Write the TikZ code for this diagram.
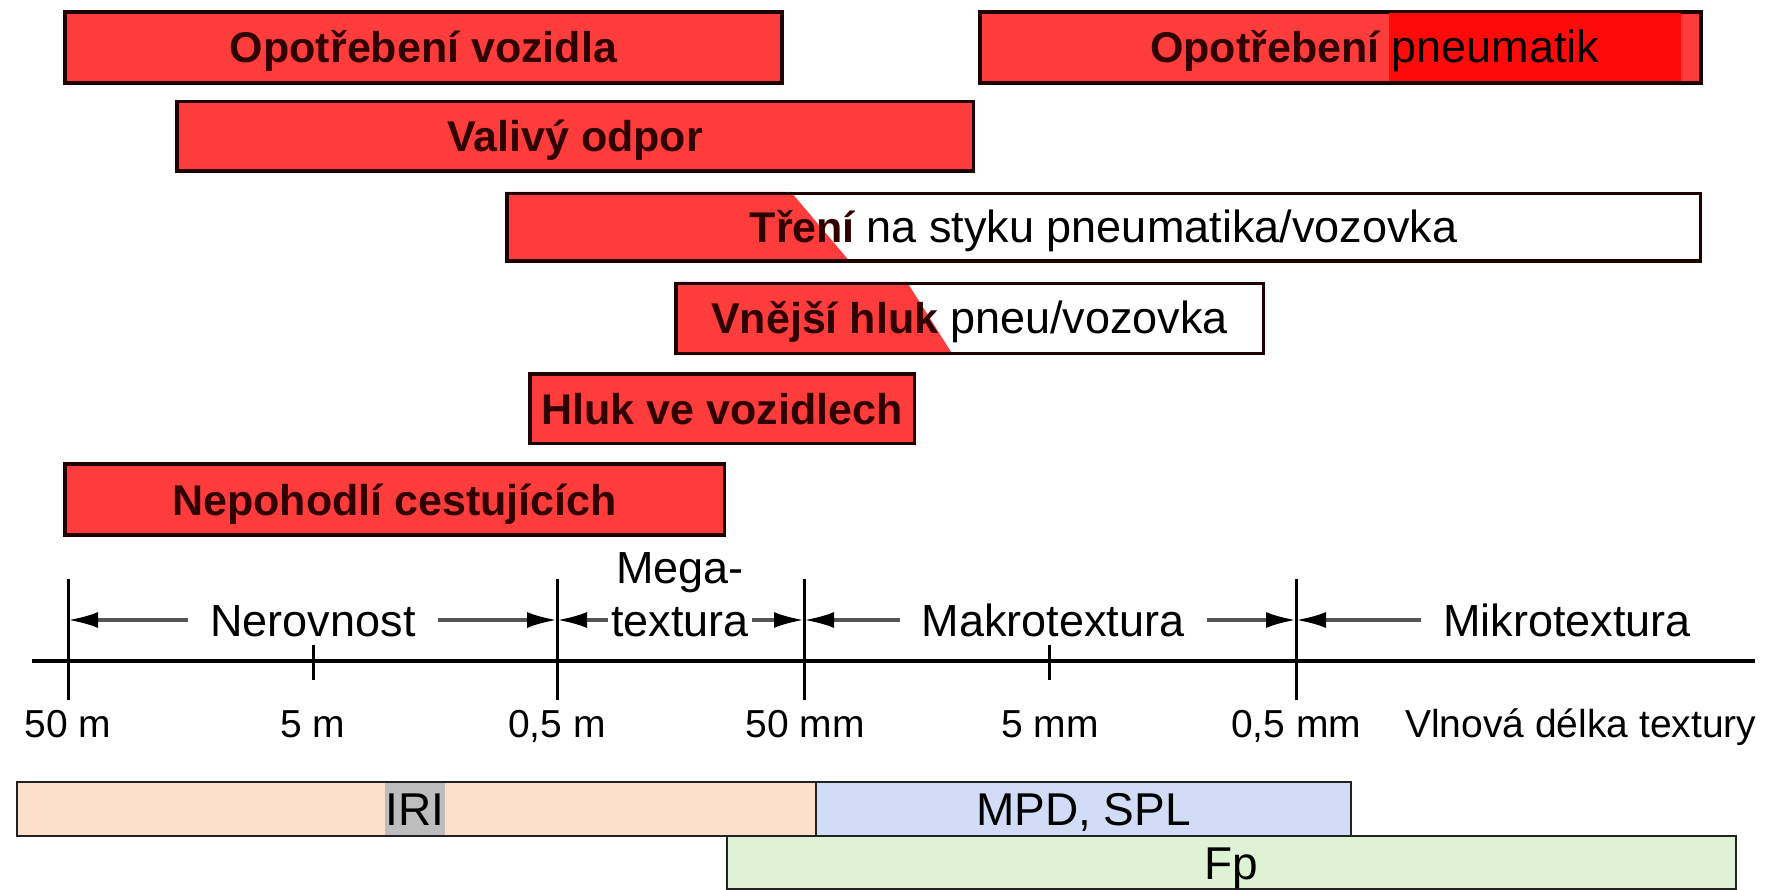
\documentclass[tikz,border=0pt]{standalone}
\usepackage{fontspec}
\setmainfont{Liberation Sans}
\usetikzlibrary{arrows.meta,backgrounds,calc}
\definecolor{redfill}{HTML}{FF3C3C}
\definecolor{redbright}{HTML}{FF0A0A}
\definecolor{boxline}{HTML}{1E0000}
\definecolor{boldtext}{HTML}{300000}
\definecolor{irifill}{HTML}{FDE0CB}
\definecolor{mpdfill}{HTML}{D1DCF6}
\definecolor{fpfill}{HTML}{DDF3D3}
\definecolor{hlgray}{HTML}{BDBDBD}
\definecolor{dimline}{HTML}{555555}
\definecolor{rowline}{HTML}{222222}
\newcommand{\boxbold}{\fontsize{43}{50}\selectfont\bfseries}
\newcommand{\plainbig}{\fontsize{45}{52}\selectfont}
\newcommand{\ticksize}{\fontsize{39}{46}\selectfont}
\newcommand{\rowsize}{\fontsize{46}{52}\selectfont}
\begin{document}
\begin{tikzpicture}[x=1pt,y=-1pt,
  redbox/.style={draw=boxline, line width=3.5pt, inner sep=0pt, text=boldtext,
     font=\boxbold, text height=31pt, text depth=0pt},
  dimlabel/.style={inner ysep=0pt, inner xsep=22pt, font=\plainbig, text height=32pt, text depth=0pt},
  dimarrow/.style={draw=dimline, line width=3.5pt, -{Latex[length=30pt,width=16pt,color=black]}},
  axisline/.style={draw=black, line width=4pt},
  tickline/.style={draw=black, line width=3pt},
  ticklabel/.style={anchor=base, font=\ticksize, inner sep=0pt},
  rowbox/.style={draw=rowline, line width=2pt, inner sep=0pt, font=\rowsize, text height=33pt, text depth=0pt}
]
\useasboundingbox (0,0) rectangle (1771,890);

% ---------- red boxes ----------
\node[redbox, fill=redfill, minimum width=717pt, minimum height=71pt] (b1) at (423.5,47.5) {Opotřebení vozidla};
\node[redbox, fill=redfill, minimum width=721pt, minimum height=71pt] (b2) at (1340.5,47.5) {};
\fill[redbright] (1389,13.5) rectangle (1681,81.5);
\node[anchor=base west, font=\boxbold, text=boldtext, inner sep=0pt] (b2t) at (1150,63) {Opotřebení {\plainbig\mdseries\color{black}pneumatik}};

\node[redbox, fill=redfill, minimum width=796.5pt, minimum height=69.5pt] (b3) at (575,136.5) {Valivý odpor};

\node[redbox, minimum width=1193.5pt, minimum height=67.5pt] (b4) at (1103.5,227.5) {Tření {\plainbig\mdseries\color{black}na styku pneumatika/vozovka}};
\node[redbox, minimum width=587.5pt, minimum height=69.5pt] (b5) at (969.5,318.5) {Vnější hluk {\plainbig\mdseries\color{black}pneu/vozovka}};
\begin{scope}[on background layer]
  \fill[redfill] (b4.north west) -- ($(b4.north west)+(286,0)$) -- ($(b4.south west)+(346,0)$) -- (b4.south west) -- cycle;
  \fill[redfill] (b5.north west) -- ($(b5.north west)+(233,0)$) -- ($(b5.south west)+(279,0)$) -- (b5.south west) -- cycle;
\end{scope}

\node[redbox, fill=redfill, minimum width=384.5pt, minimum height=69.5pt] (b6) at (722,408.5) {Hluk ve vozidlech};
\node[redbox, fill=redfill, minimum width=659.5pt, minimum height=71pt] (b7) at (394.5,499.5) {Nepohodlí cestujících};

% ---------- axis ----------
\coordinate (axL) at (32,661);
\coordinate (axR) at (1755,661);
\draw[axisline] (axL) -- (axR);
\draw[tickline] (68,579) -- (68,700);
\draw[tickline] (313,645) -- (313,680);
\draw[tickline] (557,579) -- (557,700);
\draw[tickline] (804,579) -- (804,700);
\draw[tickline] (1049,645) -- (1049,680);
\draw[tickline] (1296,579) -- (1296,700);

\coordinate (t1) at (68,620);
\coordinate (t3) at (557,620);
\coordinate (t4) at (804,620);
\coordinate (t6) at (1296,620);

\node[ticklabel] (l1) at (68,737) {50 m};
\node[ticklabel] (l2) at (313,737) {5 m};
\node[ticklabel] (l3) at (557,737) {0,5 m};
\node[ticklabel] (l4) at (805,737) {50 mm};
\node[ticklabel] (l5) at (1050,737) {5 mm};
\node[ticklabel] (l6) at (1296,737) {0,5 mm};
\node[ticklabel, anchor=base west] (l7) at (1405,737) {Vlnová délka textury};

% ---------- dimension labels ----------
\node[dimlabel] (ner) at (313,620) {Nerovnost};
\node[dimlabel, inner xsep=3pt] (tex) at (680,620) {textura};
\node[dimlabel, inner xsep=3pt] (mega) at (680,567) {Mega-};
\node[dimlabel] (mak) at (1053,620) {Makrotextura};
\node[dimlabel] (mik) at (1567,620) {Mikrotextura};

\draw[dimarrow] (ner) -- (t1);
\draw[dimarrow] (ner) -- (t3);
\draw[dimarrow] (tex) -- (t3);
\draw[dimarrow] (tex) -- (t4);
\draw[dimarrow] (mak) -- (t4);
\draw[dimarrow] (mak) -- (t6);
\draw[dimarrow] (mik) -- (t6);

% ---------- bottom row ----------
\node[rowbox, fill=irifill, minimum width=799pt, minimum height=54pt] (iri) at (416.5,809) {};
\node[fill=hlgray, inner xsep=1pt, inner ysep=0pt, minimum height=52pt, font=\rowsize, text height=33pt, text depth=0pt] (irit) at (415,809) {IRI};
\node[rowbox, fill=mpdfill, minimum width=535pt, minimum height=54pt] (mpd) at (1083.5,809) {MPD, SPL};
\node[rowbox, fill=fpfill, minimum width=1009pt, minimum height=53pt] (fp) at (1231.5,862.5) {Fp};
\end{tikzpicture}
\end{document}
